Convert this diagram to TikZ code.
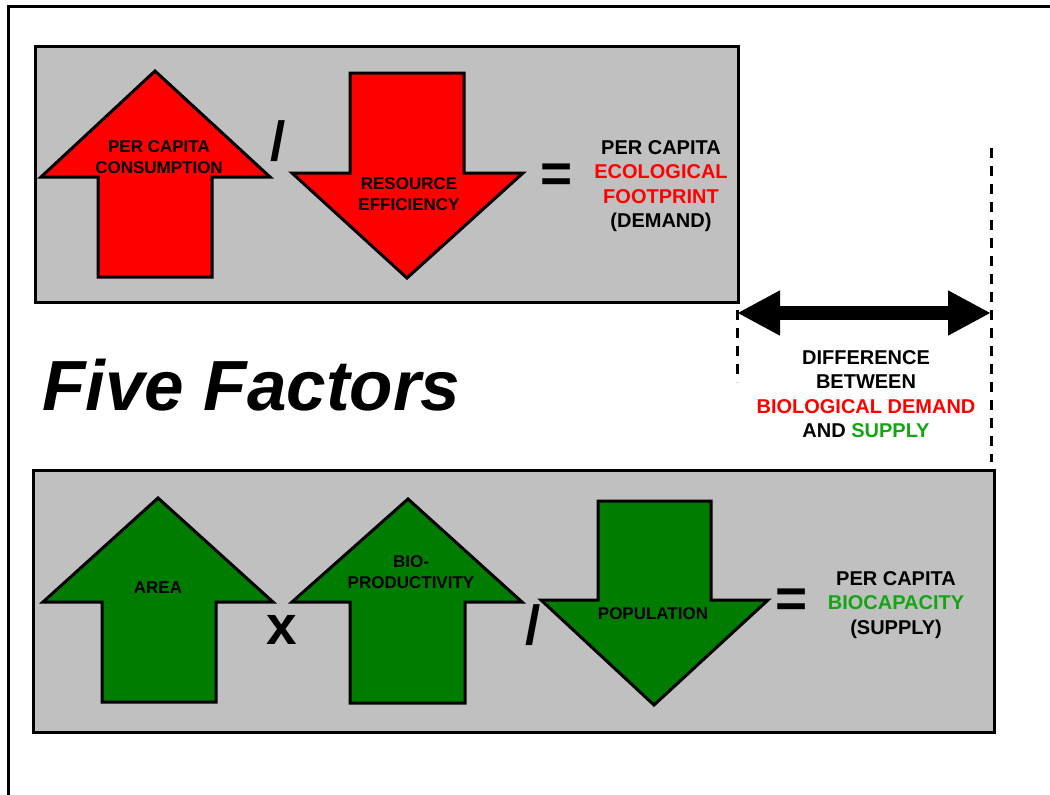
\documentclass[tikz,border=0pt]{standalone}
\usepackage{fontspec}
\setmainfont{Liberation Sans}
\usetikzlibrary{arrows.meta}
\definecolor{boxgray}{RGB}{192,192,192}
\definecolor{arrred}{RGB}{255,0,0}
\definecolor{arrgreen}{RGB}{0,125,0}
\definecolor{txtred}{RGB}{255,0,0}
\definecolor{txtgreen}{RGB}{20,165,20}
\begin{document}
\begin{tikzpicture}[x=1pt,y=-1pt,
  panel/.style={draw=black,line width=3pt,fill=boxgray},
  redarrow/.style={draw=black,line width=3pt,line join=miter,fill=arrred},
  greenarrow/.style={draw=black,line width=3pt,line join=miter,fill=arrgreen},
  lbl/.style={font=\fontsize{17}{20.5}\selectfont\bfseries,align=center,inner sep=0pt},
  result/.style={font=\fontsize{20}{24.5}\selectfont\bfseries,align=center,inner sep=0pt},
  opsign/.style={font=\fontsize{55}{55}\selectfont\bfseries,inner sep=0pt},
  guide/.style={draw=black,line width=3pt,dash pattern=on 10pt off 8pt},
  diffarrow/.style={draw=black,line width=14pt,{Triangle[length=43pt,width=42pt]}-{Triangle[length=43pt,width=42pt]}}
]
\useasboundingbox (0,0) rectangle (1050,795);
\clip (0,0) rectangle (1050,795);
% outer frame
\draw[line width=3pt] (8,6) rectangle (1100,850);

% top panel
\draw[panel] (35,46) rectangle (738,302);
\draw[redarrow] (155,71) -- (270,177) -- (212,177) -- (212,277) -- (98,277) -- (98,177) -- (41,177) -- cycle;
\draw[redarrow] (350,73) -- (464,73) -- (464,173) -- (523,173) -- (407,278) -- (292,173) -- (350,173) -- cycle;
\node[lbl] (cons) at (159,157) {PER CAPITA\\CONSUMPTION};
\node[lbl] (eff) at (409,194) {RESOURCE\\EFFICIENCY};
\node[opsign] (div1) at (278,141) {/};
\node[opsign,anchor=base] (eq1) at (557,192) {=};
\node[result] (demand) at (661,186) {PER CAPITA\\\textcolor{txtred}{ECOLOGICAL}\\\textcolor{txtred}{FOOTPRINT}\\(DEMAND)};

% title
\node[font=\fontsize{71}{71}\selectfont\bfseries\itshape,inner sep=0pt,anchor=base west] (title) at (42,410) {Five Factors};

% difference arrow
\coordinate (dl) at (737,313);
\coordinate (dr) at (991,313);
\coordinate (dltop) at (737,310);
\coordinate (dlbot) at (737,382);
\coordinate (drtop) at (991,148);
\coordinate (drbot) at (991,462);
\draw[guide] (dltop) -- (dlbot);
\draw[guide] (drtop) -- (drbot);
\draw[diffarrow] (dl) -- (dr);
\node[result] (diff) at (866,394) {DIFFERENCE\\BETWEEN\\\textcolor{txtred}{BIOLOGICAL DEMAND}\\AND \textcolor{txtgreen}{SUPPLY}};

% bottom panel
\draw[panel] (33,470) rectangle (994,732);
\draw[greenarrow] (158,498) -- (273,602) -- (216,602) -- (216,702) -- (102,702) -- (102,602) -- (43,602) -- cycle;
\draw[greenarrow] (408,499) -- (522,602) -- (465,602) -- (465,703) -- (350,703) -- (350,602) -- (292,602) -- cycle;
\draw[greenarrow] (598,501) -- (711,501) -- (711,600) -- (768,600) -- (654,705) -- (541,600) -- (598,600) -- cycle;
\node[lbl] (area) at (158,588) {AREA};
\node[lbl] (bio) at (411,572) {BIO-\\PRODUCTIVITY};
\node[lbl] (pop) at (653,614) {POPULATION};
\node[opsign] (times) at (282,630) {x};
\node[opsign] (div2) at (533,625) {/};
\node[opsign,anchor=base] (eq2) at (792,617) {=};
\node[result] (supply) at (896,605) {PER CAPITA\\\textcolor{txtgreen}{BIOCAPACITY}\\(SUPPLY)};
\end{tikzpicture}
\end{document}
